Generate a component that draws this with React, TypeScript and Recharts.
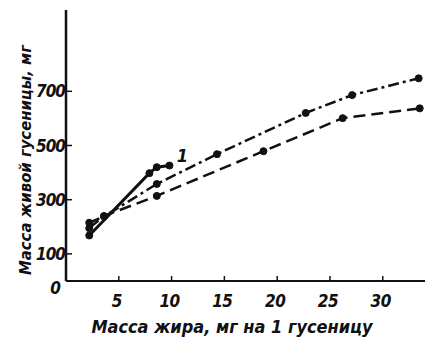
import { LineChart, Line, XAxis, YAxis, LabelList } from 'recharts';

// x ticks (мг жира) and y ticks (мг живой массы)
const xTicks = [5, 10, 15, 20, 25, 30];
const yTicks = [0, 100, 300, 500, 700];

// curve 1 — solid
const curve1X = [2.2, 7.9, 8.6, 9.8];
const curve1Y = [168, 398, 420, 426];
// dash-dot curve
const curve2X = [2.2, 3.6, 8.6, 14.3, 22.7, 27.1, 33.4];
const curve2Y = [215, 238, 358, 468, 620, 686, 748];
// dashed curve
const curve3X = [2.2, 3.6, 8.6, 18.7, 26.2, 33.5];
const curve3Y = [195, 240, 314, 479, 601, 637];

const curveNames = ['1'];
const xTitle = 'Масса жира, мг на 1 гусеницу';
const yTitle = 'Масса живой гусеницы, мг';

const toRows = (xs: number[], ys: number[]) => xs.map((x, i) => ({ x, y: ys[i] }));

const FONT = '"Liberation Sans Narrow", "DejaVu Sans Condensed", sans-serif';
const INK = '#111';

const YTick = ({ x, y, payload }: any) => {
  const zero = payload.value === 0;
  return (
    <text
      x={zero ? x - 5 : x}
      y={zero ? y + 7 : y}
      dy="0.36em"
      textAnchor="end"
      fontFamily={FONT}
      fontStyle="italic"
      fontWeight="bold"
      fontSize={17}
      letterSpacing={-1}
      fill={INK}
    >
      {payload.value}
    </text>
  );
};

const XTick = ({ x, y, payload }: any) => (
  <text
    x={x - 2}
    y={y}
    dy="0.71em"
    textAnchor="middle"
    fontFamily={FONT}
    fontStyle="italic"
    fontWeight="bold"
    fontSize={17}
    letterSpacing={-0.5}
    fill={INK}
  >
    {payload.value}
  </text>
);

const dotStyle = { r: 3.5, fill: INK, stroke: INK, strokeWidth: 1, strokeDasharray: 'none' };

export default function App() {
  return (
    <div style={{ position: 'absolute', left: 0, top: 0, background: '#fff' }}>
      <LineChart width={425} height={340} margin={{ top: 10, right: 0, bottom: 29, left: 0 }}>
        <XAxis
          type="number"
          dataKey="x"
          domain={[0, 34]}
          ticks={xTicks}
          allowDataOverflow
          height={30}
          tickSize={-5}
          tickMargin={19}
          tick={<XTick />}
          axisLine={{ stroke: INK, strokeWidth: 2 }}
          tickLine={{ stroke: INK, strokeWidth: 1.5 }}
          label={() => (
            <text
              x={232}
              y={333}
              textAnchor="middle"
              fontFamily={FONT}
              fontStyle="italic"
              fontWeight="bold"
              fontSize={18}
              fill={INK}
            >
              {xTitle}
            </text>
          )}
        />
        <YAxis
          type="number"
          dataKey="y"
          domain={[0, 1000]}
          ticks={yTicks}
          width={66}
          tickSize={-6}
          tickMargin={7}
          tick={<YTick />}
          axisLine={{ stroke: INK, strokeWidth: 2.5 }}
          tickLine={{ stroke: INK, strokeWidth: 1.5 }}
          label={() => (
            <text
              transform="translate(31,160) rotate(-90)"
              textAnchor="middle"
              fontFamily={FONT}
              fontStyle="italic"
              fontWeight="bold"
              fontSize={16.5}
              fill={INK}
            >
              {yTitle}
            </text>
          )}
        />
        <Line
          data={toRows(curve3X, curve3Y)}
          dataKey="y"
          type="linear"
          stroke={INK}
          strokeWidth={2.5}
          strokeDasharray="12 6"
          dot={dotStyle}
          isAnimationActive={false}
        />
        <Line
          data={toRows(curve2X, curve2Y)}
          dataKey="y"
          type="linear"
          stroke={INK}
          strokeWidth={2.5}
          strokeDasharray="11 4 3 4"
          dot={dotStyle}
          isAnimationActive={false}
        />
        <Line
          data={toRows(curve1X, curve1Y)}
          dataKey="y"
          type="linear"
          stroke={INK}
          strokeWidth={3}
          dot={dotStyle}
          isAnimationActive={false}
        >
          <LabelList
            dataKey="y"
            content={(p: any) => {
              if (p.index !== curve1X.length - 1) return null;
              const px = p.viewBox?.x ?? p.x;
              const py = p.viewBox?.y ?? p.y;
              return (
                <text
                  x={px + 13}
                  y={py - 4}
                  textAnchor="middle"
                  fontFamily={FONT}
                  fontStyle="italic"
                  fontWeight="bold"
                  fontSize={18}
                  fill={INK}
                >
                  {curveNames[0]}
                </text>
              );
            }}
          />
        </Line>
      </LineChart>
    </div>
  );
}
